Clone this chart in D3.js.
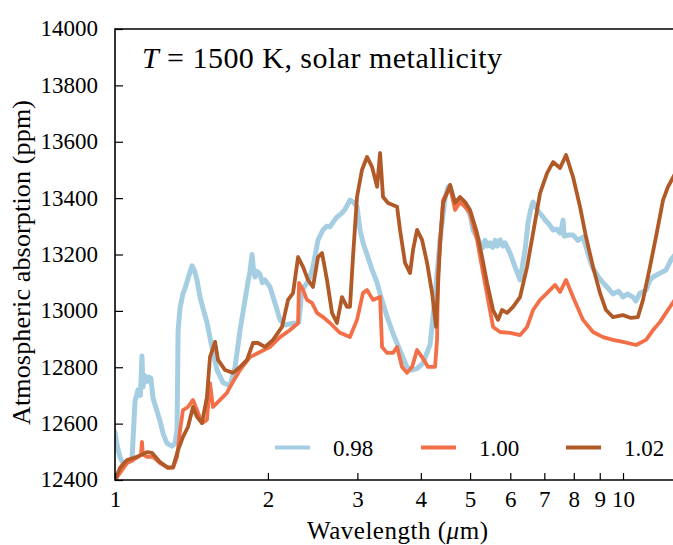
<!DOCTYPE html>
<html><head><meta charset="utf-8">
<script src="https://cdn.jsdelivr.net/npm/d3@7"></script>
<style>
html,body{margin:0;padding:0;background:#fff;}
svg{display:block;}
text{font-family:"Liberation Serif","DejaVu Serif",serif;fill:#000;}
</style></head>
<body>
<svg id="c" width="673" height="545"></svg>
<script>
// ---------------- data (wavelength in micron, absorption in ppm) ----------------
const lam098 = [1.000,1.010,1.023,1.037,1.060,1.080,1.095,1.110,1.122,1.130,1.135,1.145,1.156,1.167,1.177,1.188,1.207,1.226,1.246,1.266,1.295,1.313,1.325,1.331,1.343,1.360,1.374,1.395,1.418,1.435,1.450,1.470,1.495,1.517,1.552,1.588,1.632,1.684,1.723,1.762,1.803,1.830,1.844,1.861,1.872,1.886,1.905,1.929,1.950,1.973,2.019,2.065,2.113,2.161,2.230,2.282,2.300,2.334,2.387,2.420,2.453,2.510,2.540,2.567,2.610,2.650,2.700,2.735,2.790,2.836,2.901,2.950,2.995,3.036,3.080,3.134,3.200,3.280,3.350,3.431,3.526,3.640,3.757,3.844,3.932,4.040,4.171,4.266,4.364,4.464,4.525,4.567,4.671,4.778,4.888,5.000,5.068,5.161,5.232,5.300,5.350,5.420,5.474,5.540,5.600,5.660,5.728,5.800,5.859,5.993,6.131,6.271,6.415,6.503,6.580,6.652,6.774,6.870,6.961,7.040,7.120,7.200,7.284,7.400,7.518,7.580,7.621,7.660,7.800,7.974,8.150,8.343,8.458,8.600,8.730,8.950,9.134,9.300,9.557,9.800,10.00,10.20,10.46,10.60,10.80,11.10,11.30,11.46,11.83,12.15,12.43,12.60];
const ppm098 = [12570,12520,12480,12460,12465,12470,12680,12720,12700,12840,12730,12770,12750,12765,12760,12690,12650,12610,12560,12530,12520,12530,12580,12930,13010,13060,13080,13120,13160,13140,13110,13050,13000,12960,12870,12790,12745,12735,12800,12930,13040,13110,13140,13200,13150,13120,13140,13130,13100,13110,13085,13028,12968,12950,12955,12957,12960,13074,13099,13120,13156,13252,13270,13287,13300,13298,13320,13333,13345,13360,13393,13385,13370,13287,13240,13200,13150,13100,13040,12980,12920,12860,12800,12790,12795,12815,12880,13050,13252,13400,13440,13440,13380,13400,13380,13340,13287,13260,13241,13225,13250,13230,13241,13225,13250,13230,13252,13230,13241,13205,13156,13110,13216,13312,13360,13386,13360,13345,13333,13320,13312,13300,13287,13290,13276,13300,13322,13265,13269,13269,13250,13262,13227,13181,13150,13120,13100,13085,13060,13070,13049,13060,13049,13035,13063,13074,13110,13120,13134,13145,13181,13195];

const lam100 = [1.000,1.023,1.056,1.085,1.110,1.125,1.130,1.135,1.156,1.188,1.226,1.266,1.301,1.325,1.343,1.361,1.392,1.424,1.450,1.483,1.517,1.538,1.559,1.610,1.661,1.684,1.762,1.844,1.929,2.019,2.113,2.211,2.293,2.303,2.345,2.387,2.442,2.498,2.567,2.650,2.773,2.901,2.995,3.077,3.134,3.220,3.325,3.355,3.431,3.526,3.591,3.673,3.757,3.844,3.932,4.022,4.133,4.266,4.305,4.325,4.424,4.567,4.671,4.778,4.888,5.000,5.161,5.304,5.425,5.549,5.728,5.993,6.271,6.474,6.652,6.867,7.088,7.350,7.518,7.725,7.974,8.343,8.730,9.134,9.557,10.00,10.61,11.10,11.46,11.83,12.15,12.60];
const ppm100 = [12400,12425,12460,12471,12482,12490,12535,12490,12482,12482,12460,12446,12443,12482,12577,12648,12659,12684,12648,12602,12613,12744,12659,12684,12709,12730,12790,12836,12854,12872,12907,12932,12957,13099,13074,13039,13028,12993,12978,12957,12922,12907,12968,13063,13074,13039,13049,12872,12851,12851,12872,12801,12780,12801,12861,12836,12801,12801,12897,13134,13393,13440,13358,13386,13369,13347,13252,13134,13039,12943,12925,12922,12914,12943,13003,13039,13063,13092,13067,13110,13049,12968,12925,12907,12897,12890,12879,12897,12932,12961,12993,13035];

const lam102 = [1.000,1.023,1.056,1.105,1.156,1.183,1.226,1.271,1.301,1.331,1.361,1.392,1.424,1.450,1.483,1.517,1.538,1.574,1.595,1.647,1.707,1.762,1.819,1.869,1.912,1.973,2.047,2.132,2.191,2.241,2.293,2.345,2.398,2.453,2.510,2.556,2.614,2.674,2.735,2.798,2.862,2.901,2.941,2.995,3.063,3.134,3.206,3.280,3.325,3.370,3.447,3.591,3.640,3.724,3.809,3.861,3.932,4.022,4.115,4.209,4.286,4.364,4.424,4.567,4.671,4.778,4.888,5.000,5.161,5.280,5.400,5.549,5.676,5.780,5.913,6.075,6.271,6.474,6.652,6.867,7.088,7.284,7.518,7.725,7.974,8.231,8.458,8.730,9.011,9.259,9.557,10.00,10.37,10.70,10.95,11.30,11.61,11.99,12.26,12.60];
const ppm102 = [12400,12443,12471,12482,12499,12496,12464,12443,12446,12506,12553,12588,12659,12624,12602,12694,12836,12890,12826,12790,12780,12801,12826,12886,12886,12872,12897,12943,13039,13063,13191,13156,13110,13085,13191,13205,13110,12993,12957,13049,13014,13014,13191,13404,13500,13546,13511,13440,13560,13404,13383,13369,13287,13170,13134,13216,13287,13252,13170,13063,12943,13241,13383,13447,13383,13404,13386,13358,13276,13191,13099,13003,12968,13003,12993,13014,13049,13156,13276,13418,13489,13528,13507,13553,13475,13369,13262,13156,13063,13003,12978,12985,12975,12978,13039,13156,13262,13393,13440,13480];

const seriesNames = ["0.98","1.00","1.02"];
const seriesColors = ["#a6cee3","#f26f47","#b25928"];
const yTicks = [12400,12600,12800,13000,13200,13400,13600,13800,14000];
const xTicks = [1,2,3,4,5,6,7,8,9,10];
const titleText = " = 1500 K, solar metallicity";
const xLabel = "Wavelength (";
const yLabel = "Atmospheric absorption (ppm)";

// ---------------- layout ----------------
const svg = d3.select("#c");
const L = 115, T = 29, B = 480;
const xMax = 12.6;
const x = d3.scaleLog().domain([1, xMax]).range([L, L + 508 * Math.log10(xMax)]);
const y = d3.scaleLinear().domain([12400, 14000]).range([B, T]);

svg.append("clipPath").attr("id","clip").append("rect")
  .attr("x", L).attr("y", T).attr("width", 700 - L).attr("height", B - T);

const line = d3.line().x(d => x(d[0])).y(d => y(d[1])).curve(d3.curveLinear);
const data = [
  d3.zip(lam098, ppm098),
  d3.zip(lam100, ppm100),
  d3.zip(lam102, ppm102)
];
const widths = [5, 3.8, 3.8];
const g = svg.append("g").attr("clip-path","url(#clip)");
data.forEach((d,i) => {
  g.append("path").datum(d).attr("d", line)
    .attr("fill","none").attr("stroke", seriesColors[i])
    .attr("stroke-width", widths[i]).attr("stroke-linejoin","round").attr("stroke-linecap","round");
});

// axes (ticks inward)
const yAxis = d3.axisLeft(y).tickValues(yTicks).tickSize(-8).tickPadding(17).tickFormat(d3.format("d"));
const ya = svg.append("g").attr("transform", `translate(${L},0)`).call(yAxis);
ya.select(".domain").remove();
ya.selectAll(".tick line").attr("stroke","#000").attr("stroke-width",1.2);
ya.selectAll(".tick text").attr("font-size",23).attr("font-family","Liberation Serif").attr("dy","0.3em").attr("fill","#000");

const xAxis = d3.axisBottom(x).tickValues(xTicks).tickSize(-7).tickPadding(11).tickFormat(d3.format("d"));
const xa = svg.append("g").attr("transform", `translate(0,${B})`).call(xAxis);
xa.select(".domain").remove();
xa.selectAll(".tick line").attr("stroke","#000").attr("stroke-width",1.2);
xa.selectAll(".tick text").attr("font-size",23).attr("font-family","Liberation Serif").attr("fill","#000");

// spines
svg.append("line").attr("x1",L).attr("x2",L).attr("y1",T-0.8).attr("y2",B+0.8).attr("stroke","#000").attr("stroke-width",1.6);
svg.append("line").attr("x1",L).attr("x2",680).attr("y1",B).attr("y2",B).attr("stroke","#000").attr("stroke-width",1.6);
svg.append("line").attr("x1",L).attr("x2",680).attr("y1",T).attr("y2",T).attr("stroke","#000").attr("stroke-width",1.6);

// title
const tt = svg.append("text").attr("x",142).attr("y",68).attr("font-size",30);
tt.append("tspan").attr("font-style","italic").text("T");
tt.append("tspan").text(titleText);
tt.attr("textLength",360).attr("lengthAdjust","spacing");

// axis labels
const xl = svg.append("text").attr("x",307).attr("y",539).attr("font-size",25)
  .attr("textLength",181).attr("lengthAdjust","spacing");
xl.append("tspan").text(xLabel);
xl.append("tspan").attr("font-style","italic").text("\u03BC");
xl.append("tspan").text("m)");

svg.append("text").attr("transform","translate(30,425) rotate(-90)")
  .attr("font-size",26).attr("textLength",325).attr("lengthAdjust","spacing").text(yLabel);

// legend
const legX = [275, 421, 566];
seriesNames.forEach((n,i) => {
  svg.append("line").attr("x1",legX[i]).attr("x2",legX[i]+35).attr("y1",447.5).attr("y2",447.5)
    .attr("stroke",seriesColors[i]).attr("stroke-width",4);
  svg.append("text").attr("x",legX[i]+58).attr("y",456).attr("font-size",23).text(n);
});
</script>
</body></html>
